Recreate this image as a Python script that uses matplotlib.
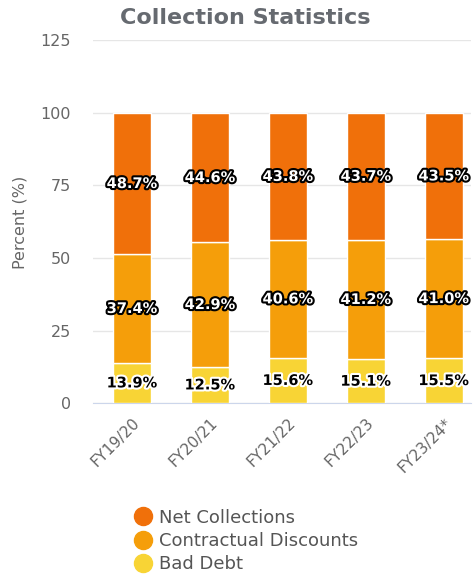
import matplotlib.pyplot as plt
import matplotlib.patheffects as pe
from matplotlib.lines import Line2D

plt.rcParams['font.family'] = ['DejaVu Sans']

years = ["FY19/20", "FY20/21", "FY21/22", "FY22/23", "FY23/24*"]
bad_debt = [13.9, 12.5, 15.6, 15.1, 15.5]
contractual = [37.4, 42.9, 40.6, 41.2, 41.0]
net_collections = [48.7, 44.6, 43.8, 43.7, 43.5]

c_net = "#f0700a"
c_con = "#f59e0a"
c_bad = "#f8d435"
grey = "#666666"

fig = plt.figure(figsize=(4.75, 5.75), dpi=100)
ax = fig.add_axes([0.196, 0.299, 0.796, 0.631])

x = range(len(years))
w = 0.49
bottom2 = [a + b for a, b in zip(bad_debt, contractual)]
ax.bar(x, bad_debt, w, color=c_bad, edgecolor="white", linewidth=1, zorder=3)
ax.bar(x, contractual, w, bottom=bad_debt, color=c_con, edgecolor="white", linewidth=1, zorder=3)
ax.bar(x, net_collections, w, bottom=bottom2, color=c_net, edgecolor="white", linewidth=1, zorder=3)

# labels in the middle of each segment
white_txt = [pe.withStroke(linewidth=3, foreground="black")]
black_txt = [pe.withStroke(linewidth=3, foreground="white")]
for i in x:
    ax.text(i, bad_debt[i] / 2, f"{bad_debt[i]:.1f}%", ha="center", va="center",
            fontsize=10.5, fontweight="bold", color="black", path_effects=black_txt, zorder=5)
    ax.text(i, bad_debt[i] + contractual[i] / 2, f"{contractual[i]:.1f}%", ha="center", va="center",
            fontsize=10.5, fontweight="bold", color="white", path_effects=white_txt, zorder=5)
    ax.text(i, bottom2[i] + net_collections[i] / 2, f"{net_collections[i]:.1f}%", ha="center", va="center",
            fontsize=10.5, fontweight="bold", color="white", path_effects=white_txt, zorder=5)

ax.set_xlim(-0.5, 4.35)
ax.set_ylim(0, 125)
ax.set_yticks([0, 25, 50, 75, 100, 125])
ax.yaxis.grid(True, color="#e6e6e6", linewidth=1, zorder=0)
for s in ["top", "right", "left"]:
    ax.spines[s].set_visible(False)
ax.spines["bottom"].set_color("#ccd6eb")
ax.tick_params(axis="y", length=0, labelsize=11.5, labelcolor=grey, pad=16)
ax.tick_params(axis="x", length=0, labelsize=11, labelcolor=grey, pad=9)
ax.set_xticks(list(x))
ax.set_xticklabels(years, rotation=45, ha="right", rotation_mode="anchor")
fig.text(20 / 475, 1 - 222 / 575, "Percent (%)", rotation=90, ha="center", va="center",
         fontsize=11.5, color=grey)

fig.text(0.516, 0.969, "Collection Statistics", ha="center", va="center",
         fontsize=16, fontweight="bold", color="#666a70")

handles = [Line2D([], [], marker="o", linestyle="", markersize=13, color=c)
           for c in (c_net, c_con, c_bad)]
fig.legend(handles, ["Net Collections", "Contractual Discounts", "Bad Debt"],
           loc="center left", bbox_to_anchor=(0.243, 0.059), frameon=False,
           fontsize=13, labelcolor="#555555", handletextpad=0.3, labelspacing=0.3,
           handlelength=1.2)

fig.savefig("out.png", dpi=100)
